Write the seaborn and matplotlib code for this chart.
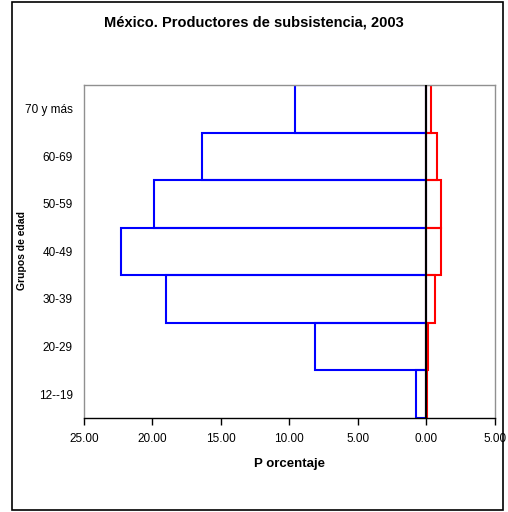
import numpy as np
import pandas as pd
import matplotlib
matplotlib.use("Agg")
import matplotlib.pyplot as plt
import seaborn as sns
from matplotlib.patches import Rectangle

# data (percent)
grupos = ["70 y más", "60-69", "50-59", "40-49", "30-39", "20-29", "12--19"]
hombres = [9.6, 16.4, 19.85, 22.3, 19.0, 8.1, 0.75]
mujeres = [0.35, 0.75, 1.05, 1.05, 0.65, 0.12, 0.05]
xticks = [-25, -20, -15, -10, -5, 0, 5]

sns.set_style("white")
plt.rcParams["font.family"] = ["Liberation Sans", "DejaVu Sans"]
plt.rcParams.update({"text.color": "black", "axes.labelcolor": "black",
                     "xtick.color": "black", "ytick.color": "black"})

df = pd.DataFrame({"grupo": grupos,
                   "hombres": [-v for v in hombres],
                   "mujeres": mujeres})

fig = plt.figure(figsize=(5.08, 5.12), dpi=100)
ax = fig.add_axes([0.165, 0.184, 0.809, 0.650])

sns.barplot(data=df, x="hombres", y="grupo", order=grupos, orient="h",
            fill=False, color="#0000ff", width=1.0, linewidth=1.5, ax=ax)
sns.barplot(data=df, x="mujeres", y="grupo", order=grupos, orient="h",
            fill=False, color="#ff0000", width=1.0, linewidth=1.5, ax=ax)

ax.axvline(0, color="black", linewidth=1.5, zorder=5)
ax.set_xlim(-25, 5)
ax.set_ylim(len(grupos) - 0.5, -0.5)
ax.set_xticks(xticks)
ax.set_xticklabels([f"{abs(t):.2f}" for t in xticks], fontsize=8.5)
ax.tick_params(axis="x", direction="out", length=5, width=1, color="black",
               bottom=True, pad=6)
ax.tick_params(axis="y", length=0, labelsize=8.5, pad=8)
ax.set_xlabel("P orcentaje", fontsize=9.5, fontweight="bold", labelpad=9)
ax.set_ylabel("")

for s in ["top", "right", "left"]:
    ax.spines[s].set_color("#909090")
    ax.spines[s].set_linewidth(1)
ax.spines["bottom"].set_color("black")
ax.spines["bottom"].set_linewidth(1)

fig.text(0.5, 0.956, "México. Productores de subsistencia, 2003",
         ha="center", va="center", fontsize=10.5, fontweight="bold")
fig.text(22 / 508, 1 - 250 / 512, "Grupos de edad", rotation=90,
         ha="center", va="center", fontsize=7.5, fontweight="heavy")

fig.patches.append(Rectangle((12 / 508, 2 / 512), 491 / 508, 508 / 512,
                             transform=fig.transFigure, fill=False,
                             edgecolor="black", linewidth=1.2))

fig.savefig("out.png", dpi=100)
